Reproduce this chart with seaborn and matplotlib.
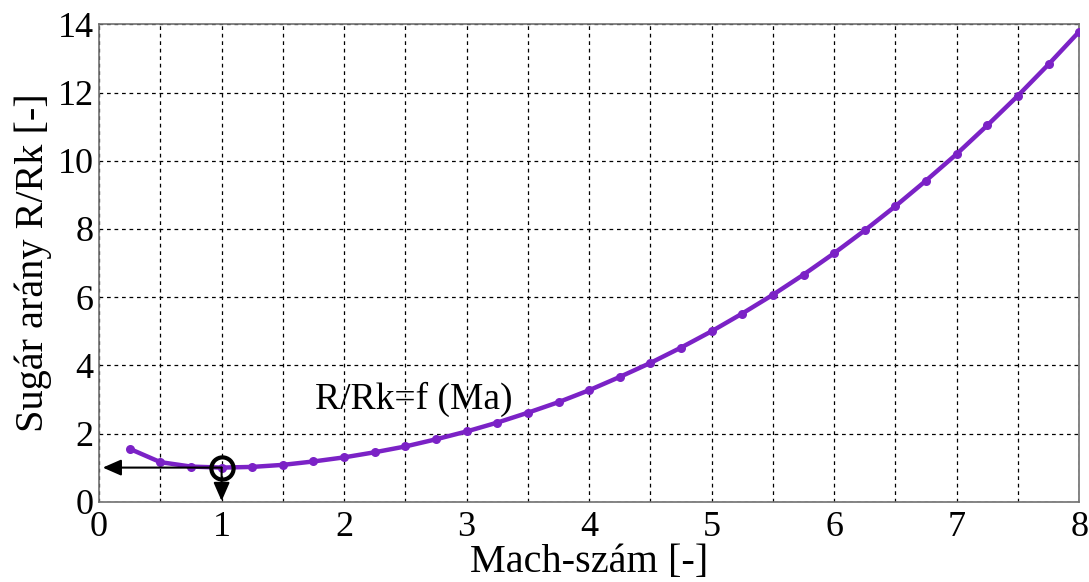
import matplotlib
matplotlib.use("Agg")
import matplotlib.pyplot as plt
import seaborn as sns
import pandas as pd
import numpy as np

mach = [0.25, 0.5, 0.75, 1.0, 1.25, 1.5, 1.75, 2.0, 2.25, 2.5, 2.75, 3.0, 3.25, 3.5,
        3.75, 4.0, 4.25, 4.5, 4.75, 5.0, 5.25, 5.5, 5.75, 6.0, 6.25, 6.5, 6.75, 7.0,
        7.25, 7.5, 7.75, 8.0]
ratio = [1.55, 1.16, 1.03, 1.00, 1.02, 1.08, 1.18, 1.30, 1.45, 1.62, 1.83, 2.06, 2.32, 2.61,
         2.92, 3.27, 3.66, 4.07, 4.52, 5.00, 5.52, 6.07, 6.66, 7.29, 7.96, 8.67, 9.42, 10.20,
         11.04, 11.91, 12.83, 13.79]
xticks = [0, 1, 2, 3, 4, 5, 6, 7, 8]
yticks = [0, 2, 4, 6, 8, 10, 12, 14]
xlabel = "Mach-szám [-]"
ylabel = "Sugár arány R/Rk [-]"
note = "R/Rk=f (Ma)"
crit_x, crit_y = 1.0, 1.0

sns.set_style("white")
plt.rcParams['font.family'] = ['Liberation Serif', 'DejaVu Serif']
plt.rcParams['text.color'] = 'black'
plt.rcParams['axes.labelcolor'] = 'black'
plt.rcParams['xtick.color'] = 'black'
plt.rcParams['ytick.color'] = 'black'

df = pd.DataFrame({"Ma": mach, "R": ratio})

fig = plt.figure(figsize=(10.89, 5.82), dpi=100)
ax = fig.add_axes([0.091, 0.138, 0.9, 0.82])

sns.lineplot(data=df, x="Ma", y="R", ax=ax, color="#7B22C6", linewidth=3.2,
             marker="o", markersize=6.5, markeredgewidth=0, zorder=3)

ax.set_xlim(0, 8)
ax.set_ylim(0, 14)
ax.set_xticks(xticks)
ax.set_xticks(np.arange(0, 8.01, 0.5), minor=True)
ax.set_yticks(yticks)
ax.grid(True, which="both", axis="x", linestyle=(0, (3, 3)), color="black", linewidth=0.9)
ax.grid(True, which="major", axis="y", linestyle=(0, (3, 3)), color="black", linewidth=0.9)
ax.tick_params(axis="both", which="both", direction="in", length=5, color="#555555",
               labelsize=26, labelcolor="black")
ax.tick_params(axis="x", which="major", pad=7)
ax.tick_params(axis="y", which="major", pad=4)
ax.tick_params(axis="x", which="minor", length=0)
for s in ax.spines.values():
    s.set_color("#707070")
    s.set_linewidth(1.2)

ax.set_xlabel(xlabel, fontsize=29, va="bottom")
ax.xaxis.set_label_coords(0.5, -0.166)
ax.set_ylabel(ylabel, fontsize=29, labelpad=4)

# critical point annotations
ax.annotate("", xy=(0.03, crit_y), xytext=(crit_x, crit_y),
            arrowprops=dict(arrowstyle="-|>,head_length=0.8,head_width=0.35",
                            color="black", lw=1.5, mutation_scale=14, shrinkA=0, shrinkB=0),
            zorder=5)
ax.annotate("", xy=(crit_x, 0.02), xytext=(crit_x, crit_y),
            arrowprops=dict(arrowstyle="-|>,head_length=0.8,head_width=0.35",
                            color="black", lw=1.5, mutation_scale=14, shrinkA=0, shrinkB=0),
            zorder=5)
ax.plot([crit_x], [crit_y], marker="o", markersize=16, markerfacecolor="none",
        markeredgecolor="black", markeredgewidth=3, zorder=6)

ax.text(1.76, 3.0, note, fontsize=27, ha="left", va="center")

fig.savefig("out.png", dpi=100)
